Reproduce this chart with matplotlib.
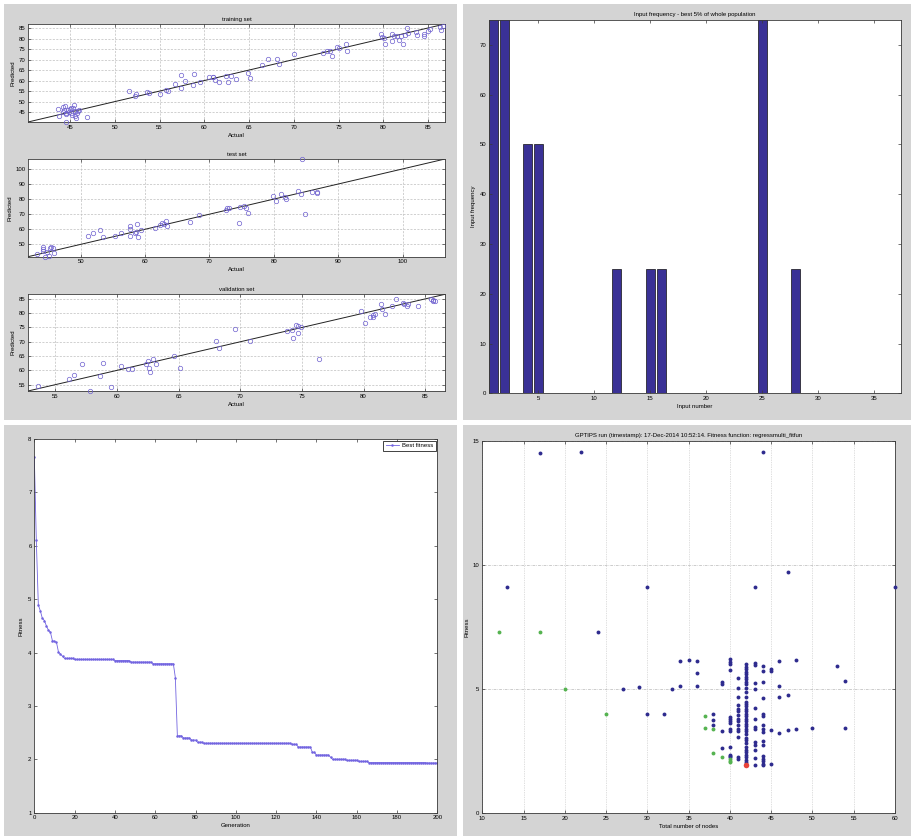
import numpy as np
import matplotlib
matplotlib.use("Agg")
import matplotlib.pyplot as plt
from matplotlib.patches import Rectangle

# ---------------- data ----------------
# training set: actual vs predicted
train_actual = [43.7, 43.8, 44.2, 44.3, 44.2, 44.4, 44.6, 44.6, 44.8, 45.0, 45.1, 45.3, 45.4,
                45.2, 45.5, 45.6, 45.7, 45.8, 45.9, 46.0, 46.9, 44.9, 45.1, 44.5,
                51.6, 52.3, 52.4, 53.6, 53.8, 55.0, 55.7, 56.0, 56.7, 57.4, 57.4, 57.9, 58.8,
                58.7, 59.5, 60.5, 61.0, 61.0, 61.2, 61.6, 62.4, 62.7, 63.0, 63.5, 64.9, 65.1,
                66.4, 67.1, 68.1, 68.4, 70.0, 73.3, 73.7, 74.0, 74.3, 74.8, 75.1, 75.8, 75.9,
                79.8, 79.9, 80.05, 80.2, 81.0, 81.0, 81.2, 81.5, 81.8, 82.0, 82.2, 82.4, 82.65,
                82.8, 83.7, 83.8, 84.5, 84.6, 85.0, 85.25, 86.3, 86.5, 86.7]
train_pred = [46.6, 43.0, 47.6, 46.1, 45.2, 48.0, 40.3, 44.0, 45.9, 46.6, 44.8, 47.1, 48.6,
              43.6, 45.5, 43.0, 42.2, 44.4, 45.3, 46.1, 42.6, 45.0, 47.0, 44.6,
              55.2, 52.8, 53.6, 54.4, 54.1, 53.6, 55.5, 55.2, 58.6, 62.7, 56.5, 59.9, 63.0,
              58.0, 59.4, 61.5, 61.8, 61.5, 60.2, 59.4, 62.3, 59.4, 62.3, 60.7, 63.8, 61.0,
              67.3, 70.1, 70.4, 68.1, 72.8, 73.2, 74.0, 74.0, 71.7, 75.9, 75.6, 77.2, 74.0,
              82.3, 80.6, 80.3, 77.2, 82.3, 79.0, 81.4, 81.0, 79.5, 81.4, 77.6, 81.9, 85.0,
              82.6, 83.1, 81.9, 82.3, 81.0, 83.7, 84.7, 85.3, 83.9, 85.8]

# test set
test_actual = [43.2, 44.1, 44.1, 44.2, 44.4, 44.7, 45.0, 45.2, 45.4, 45.7, 45.9,
               51.1, 51.9, 53.0, 53.4, 55.3, 56.2, 57.6, 57.6, 57.7, 58.4, 58.6, 58.8, 58.9,
               59.4, 61.5, 62.3, 62.7, 63.0, 63.3, 63.4, 67.0, 68.4, 72.6, 72.8, 73.1, 74.6,
               74.7, 75.4, 75.6, 76.0, 79.9, 80.3, 81.1, 81.7, 81.9, 83.8, 84.3, 84.4, 84.8,
               85.9, 86.7, 86.7]
test_pred = [43.8, 46.9, 48.5, 45.6, 41.9, 45.2, 42.3, 47.4, 48.5, 47.4, 44.5,
             55.7, 57.7, 59.5, 55.1, 55.7, 57.3, 62.3, 60.1, 55.5, 57.3, 58.4, 63.2, 54.6,
             59.5, 60.6, 62.8, 63.9, 63.4, 65.6, 62.1, 65.0, 69.4, 73.1, 73.8, 74.4, 63.9,
             74.9, 75.6, 73.8, 70.9, 82.2, 78.6, 83.7, 81.1, 80.2, 85.5, 83.7, 106.4, 70.0,
             84.8, 84.8, 84.1]

# validation set
val_actual = [53.65, 56.1, 56.5, 57.2, 57.8, 58.6, 58.9, 59.5, 60.35, 60.9, 61.2, 62.4, 62.5,
              62.6, 62.65, 62.9, 63.2, 64.6, 65.1, 68.0, 68.3, 69.6, 70.8, 73.8, 74.2, 74.3,
              74.5, 74.7, 74.7, 74.9, 76.4, 79.8, 80.1, 80.5, 80.8, 80.8, 80.9, 81.7, 81.4,
              81.5, 82.3, 82.65, 83.2, 83.3, 83.5, 83.6, 84.4, 85.5, 85.6, 85.65, 85.8]
val_pred = [54.7, 57.05, 58.4, 62.4, 52.9, 58.2, 62.75, 54.2, 61.6, 60.5, 60.4, 62.4, 63.2,
            61.0, 59.6, 64.0, 62.4, 64.9, 60.9, 70.4, 67.9, 74.4, 70.4, 73.6, 74.15, 71.3,
            76.0, 75.5, 73.0, 75.3, 63.9, 80.65, 76.7, 78.7, 79.5, 78.6, 79.7, 79.7, 83.3,
            81.5, 82.4, 85.0, 83.5, 83.3, 82.4, 83.3, 82.4, 85.0, 84.6, 84.3, 84.4]

# input frequency of the best 5% of the population
bar_inputs = [1, 2, 4, 5, 12, 15, 16, 25, 28]
bar_freq = [100, 100, 50, 50, 25, 25, 25, 100, 25]

# best fitness per generation, as (value, number of generations) runs
fitness_runs = [(7.67, 1), (6.10, 1), (4.89, 1), (4.78, 1), (4.64, 1), (4.60, 1), (4.50, 1),
                (4.42, 1), (4.38, 1), (4.22, 1), (4.21, 1), (4.19, 1), (4.01, 1), (3.97, 1),
                (3.93, 1), (3.89, 5), (3.87, 20), (3.85, 8), (3.82, 11), (3.79, 11),
                (3.53, 1), (2.44, 3), (2.40, 4), (2.36, 3), (2.32, 3), (2.30, 44), (2.28, 3),
                (2.23, 7), (2.13, 2), (2.08, 7), (2.04, 1), (2.00, 7), (1.98, 6), (1.96, 5),
                (1.94, 29), (1.93, 6)]

# population: model complexity vs fitness
pop_nodes = [17, 22, 44, 13, 30, 43, 47, 60, 24, 27, 29, 30, 32, 33, 34, 34, 35, 36, 36, 36,
             38, 38, 38, 39, 39, 39, 39,
             40, 40, 40, 40, 40, 40, 40, 40, 40, 40, 40, 40, 40, 40,
             41, 41, 41, 41, 41, 41, 41, 41, 41, 41, 41, 41, 41, 41, 41,
             42, 42, 42, 42, 42, 42, 42, 42, 42, 42, 42, 42, 42, 42, 42, 42, 42, 42, 42, 42,
             42, 42, 42, 42, 42, 42, 42, 42, 42, 42, 42, 42, 42, 42, 42, 42, 42,
             43, 43, 43, 43, 43, 43, 43, 43, 43, 43, 43, 43, 43,
             44, 44, 44, 44, 44, 44, 44, 44, 44, 44, 44, 44, 44, 44, 44, 44,
             45, 45, 45, 45, 46, 46, 46, 46, 47, 47, 48, 48, 50, 53, 54, 54]
pop_fitness = [14.5, 14.55, 14.55, 9.1, 9.13, 9.13, 9.72, 9.13, 7.31, 5.0, 5.1, 4.0, 4.0, 5.0,
               6.15, 5.11, 6.17, 6.15, 5.66, 5.11,
               4.01, 3.74, 3.57, 5.29, 5.22, 3.32, 2.62,
               6.2, 6.1, 6.0, 5.77, 3.89, 3.8, 3.7, 3.62, 3.41, 3.33, 2.68, 2.35, 2.3, 2.25,
               5.44, 5.06, 4.68, 4.36, 4.2, 4.1, 3.96, 3.8, 3.7, 3.56, 3.4, 3.3, 3.06, 2.28, 2.2,
               6.0, 5.9, 5.8, 5.7, 5.6, 5.5, 5.4, 5.3, 5.2, 5.05, 4.9, 4.7, 4.5, 4.4, 4.3, 4.2,
               4.1, 4.0, 3.9, 3.8, 3.7, 3.6, 3.5, 3.4, 3.3, 3.2, 3.05, 2.95, 2.85, 2.65, 2.55,
               2.45, 2.35, 2.25, 2.15, 2.05, 2.0,
               6.05, 5.98, 5.23, 5.0, 4.23, 3.8, 3.46, 3.38, 2.89, 2.75, 2.55, 2.24, 1.95,
               5.93, 5.72, 5.28, 4.63, 4.0, 3.9, 3.54, 3.4, 3.28, 2.91, 2.74, 2.3, 2.2, 2.1,
               2.0, 1.95,
               5.8, 5.72, 3.34, 2.0, 6.13, 5.11, 4.68, 3.22, 4.75, 3.35, 6.17, 3.4, 3.42, 5.95,
               5.32, 3.42]
front_nodes = [12, 17, 20, 25, 37, 37, 38, 38, 39, 40, 40, 40]
front_fitness = [7.3, 7.3, 5.0, 4.0, 3.9, 3.42, 3.41, 2.44, 2.28, 2.2, 2.1, 2.05]
best_nodes = [42]
best_fitness = [1.93]

# ---------------- figure ----------------
W, H = 915, 838
plt.rcParams['font.family'] = ['Liberation Sans', 'DejaVu Sans']
FS = 4.3
fig = plt.figure(figsize=(W / 100, H / 100), dpi=100)
fig.patch.set_facecolor('white')

PANEL = '#d4d4d4'
for (x0, y0, x1, y1) in [(4, 4, 457, 420), (463, 4, 911, 420),
                         (4, 425, 457, 836), (463, 425, 911, 836)]:
    fig.patches.append(Rectangle((x0 / W, 1 - y1 / H), (x1 - x0) / W, (y1 - y0) / H,
                                 transform=fig.transFigure, facecolor=PANEL,
                                 edgecolor='none', zorder=-10))


def place(x0, y0, x1, y1):
    return fig.add_axes([x0 / W, 1 - y1 / H, (x1 - x0) / W, (y1 - y0) / H])


def style(ax):
    ax.set_facecolor('white')
    for s in ax.spines.values():
        s.set_color('#3a3a3a')
        s.set_linewidth(0.6)
    ax.tick_params(direction='in', top=True, right=True, labelsize=FS, length=2.5,
                   width=0.5, pad=2, colors='#3a3a3a', labelcolor='black')


GRID = dict(color='#bdbdbd', linewidth=0.5, linestyle=(0, (3, 2)))
CIRC = '#6f62d0'


def scatter_panel(box, actual, pred, lims, ticks, title):
    ax = place(*box)
    style(ax)
    ax.plot(actual, pred, 'o', markersize=3.2, markerfacecolor='none',
            markeredgecolor=CIRC, markeredgewidth=0.5, zorder=3, clip_on=False)
    ax.plot(lims, lims, '-', color='#222222', linewidth=0.7, zorder=2)
    ax.set_xlim(lims)
    ax.set_ylim(lims)
    ax.set_xticks(ticks)
    ax.set_yticks(ticks)
    ax.grid(True, **GRID)
    ax.set_axisbelow(True)
    ax.set_title(title, fontsize=FS, pad=2.5)
    ax.set_xlabel('Actual', fontsize=FS, labelpad=2)
    ax.set_ylabel('Predicted', fontsize=FS, labelpad=2)
    return ax


scatter_panel((28, 24, 445, 122), train_actual, train_pred, (40.3, 86.9),
              list(range(45, 90, 5)), 'training set')
scatter_panel((28, 159, 445, 256.7), test_actual, test_pred, (41.8, 106.6),
              list(range(50, 110, 10)), 'test set')
scatter_panel((28, 294.3, 445, 391), val_actual, val_pred, (52.8, 86.6),
              list(range(55, 90, 5)), 'validation set')

# input frequency bars
axb = place(489.3, 20, 900.7, 393.3)
style(axb)
axb.bar(bar_inputs, bar_freq, width=0.8, color='#3a3196', edgecolor='#111111',
        linewidth=0.5)
axb.set_xlim(0.6, 37.4)
axb.set_ylim(0, 75)
axb.set_xticks(range(5, 40, 5))
axb.set_yticks(range(0, 80, 10))
axb.set_title('Input frequency - best 5% of whole population', fontsize=FS, pad=3)
axb.set_xlabel('Input number', fontsize=FS, labelpad=2)
axb.set_ylabel('Input frequency', fontsize=FS, labelpad=3)

# best fitness vs generation
gen_fitness = np.repeat([v for v, n in fitness_runs], [n for v, n in fitness_runs])
generations = np.arange(len(gen_fitness))
axf = place(34.3, 439, 437.3, 812.7)
style(axf)
axf.plot(generations, gen_fitness, '.-', color='#7264e0', linewidth=0.6,
         markersize=1.6, label='Best fitness')
axf.set_xlim(0, 200)
axf.set_ylim(1, 8)
axf.set_xticks(range(0, 201, 20))
axf.set_yticks(range(1, 9))
axf.set_xlabel('Generation', fontsize=FS, labelpad=2)
axf.set_ylabel('Fitness', fontsize=FS, labelpad=3)
leg = axf.legend(loc='upper right', fontsize=FS, fancybox=False, framealpha=1,
                 edgecolor='#222222', borderpad=0.4, handlelength=2.2,
                 handletextpad=0.5, borderaxespad=0.3)
leg.get_frame().set_linewidth(0.6)

# population fitness vs complexity
axp = place(482.3, 440.7, 895, 813.3)
style(axp)
axp.plot(pop_nodes, pop_fitness, 'o', color='#2e2b8e', markersize=2.8,
         markeredgewidth=0, zorder=3, clip_on=False)
axp.plot(front_nodes, front_fitness, 'o', color='#55b350', markersize=2.8,
         markeredgewidth=0, zorder=4, clip_on=False)
axp.plot(best_nodes, best_fitness, 'o', color='#e8443a', markersize=4.0,
         markeredgewidth=0, zorder=5, clip_on=False)
axp.set_xlim(10, 60)
axp.set_ylim(0, 15)
axp.set_xticks(range(10, 61, 5))
axp.set_yticks([0, 5, 10, 15])
axp.xaxis.grid(True, color='#c0c0c0', linewidth=0.5, linestyle=(0, (1, 1.5)))
axp.yaxis.grid(True, color='#b8b8b8', linewidth=0.5, linestyle=(0, (4, 1.5, 1, 1.5)))
axp.set_axisbelow(True)
axp.set_title('GPTIPS run (timestamp): 17-Dec-2014 10:52:14. Fitness function: '
              'regressmulti_fitfun', fontsize=FS, pad=3)
axp.set_xlabel('Total number of nodes', fontsize=FS, labelpad=2)
axp.set_ylabel('Fitness', fontsize=FS, labelpad=2)

fig.savefig('out.png', dpi=100, facecolor='white')
